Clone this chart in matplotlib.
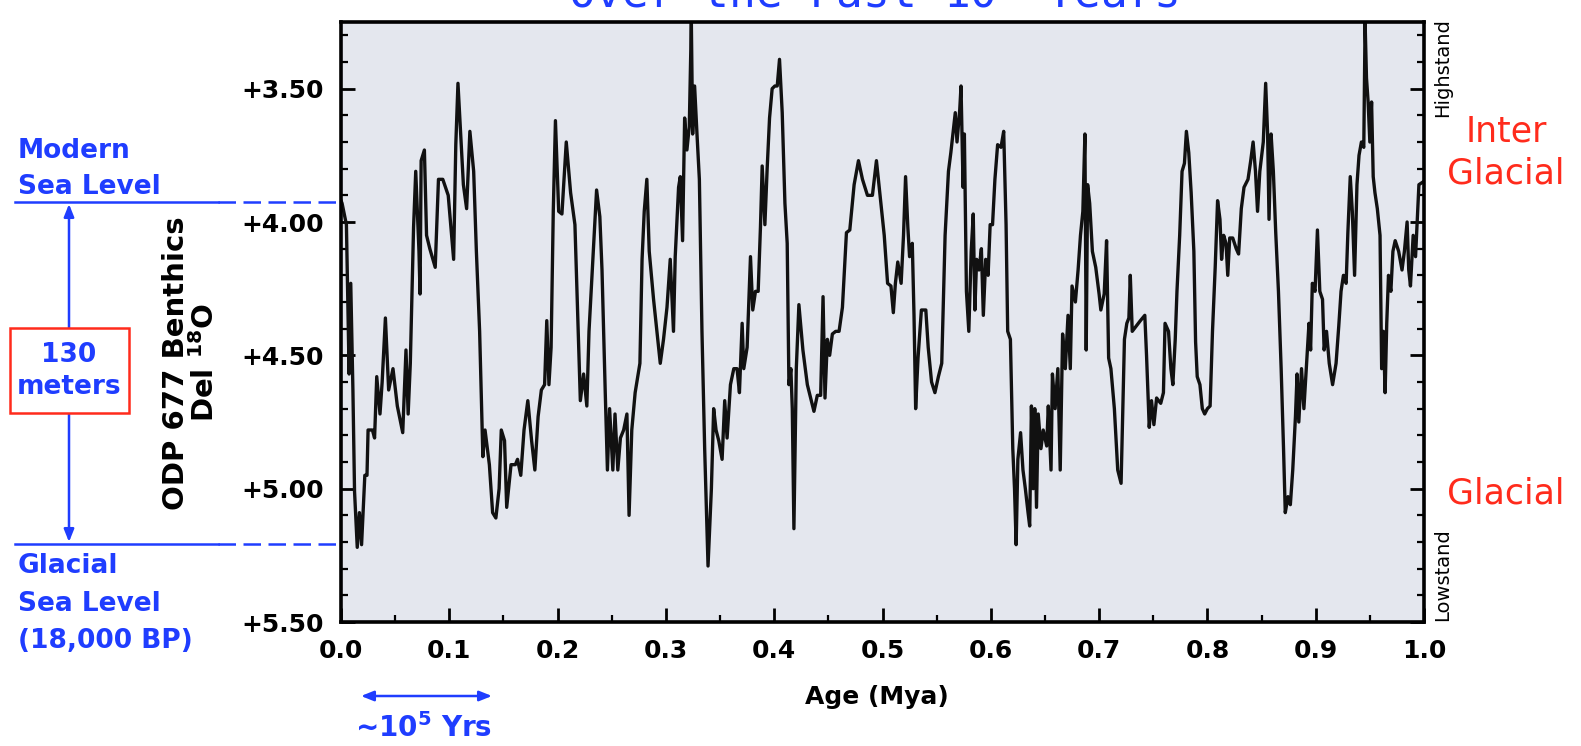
import numpy as np
import matplotlib
matplotlib.use("Agg")
import matplotlib.pyplot as plt
from matplotlib.lines import Line2D
from matplotlib.patches import FancyArrowPatch, Rectangle
from matplotlib.ticker import MultipleLocator, FuncFormatter

# ODP 677 benthic d18O (age in Mya, d18O in permil)
age_a = [0.0, 0.001, 0.005, 0.006, 0.0075, 0.009, 0.011, 0.0125, 0.015, 0.017, 0.019, 0.022, 0.024, 0.025,
         0.029, 0.031, 0.033, 0.036, 0.038, 0.041, 0.044, 0.048, 0.052, 0.057, 0.060, 0.062, 0.064,
         0.067, 0.069, 0.072, 0.073, 0.074, 0.077, 0.079, 0.082, 0.087, 0.090, 0.094, 0.099, 0.104,
         0.106, 0.108, 0.111, 0.113, 0.116, 0.119, 0.1225, 0.125, 0.128, 0.131, 0.133, 0.137, 0.140,
         0.143, 0.146, 0.148, 0.151, 0.153, 0.157, 0.161, 0.163, 0.166, 0.169, 0.1725, 0.176, 0.179,
         0.182, 0.185, 0.188, 0.190, 0.192, 0.194, 0.196, 0.198, 0.201, 0.204, 0.208, 0.212, 0.216,
         0.219, 0.221, 0.224, 0.227, 0.229, 0.233, 0.236, 0.239, 0.241]
d18o_a = [3.92, 3.93, 4.01, 4.23, 4.57, 4.23, 4.63, 5.01, 5.22, 5.09, 5.21, 4.95, 4.95, 4.78, 4.78, 4.81,
          4.58, 4.72, 4.60, 4.36, 4.63, 4.55, 4.69, 4.79, 4.48, 4.72, 4.53, 4.02, 3.81, 4.11, 4.27,
          3.77, 3.73, 4.05, 4.10, 4.17, 3.84, 3.84, 3.90, 4.14, 3.71, 3.48, 3.71, 3.86, 3.95, 3.66,
          3.81, 4.11, 4.41, 4.88, 4.78, 4.91, 5.09, 5.11, 5.00, 4.78, 4.82, 5.07, 4.91, 4.91, 4.89,
          4.95, 4.78, 4.67, 4.82, 4.93, 4.73, 4.63, 4.61, 4.37, 4.61, 4.47, 3.96, 3.62, 3.96, 3.97,
          3.70, 3.89, 4.01, 4.41, 4.67, 4.57, 4.69, 4.41, 4.11, 3.88, 3.98, 4.18]

age_b = [0.244, 0.246, 0.248, 0.251, 0.253, 0.2556, 0.258, 0.261, 0.264, 0.266, 0.2685, 0.2716, 0.276,
         0.278, 0.280, 0.2824, 0.2846, 0.2886, 0.2917, 0.2948, 0.2978, 0.301, 0.304, 0.307, 0.3086,
         0.3117, 0.3133, 0.3154, 0.3173, 0.3194, 0.3216, 0.3235, 0.3247, 0.3265, 0.3287, 0.3309,
         0.3333, 0.3358, 0.3373, 0.3389, 0.342, 0.3441, 0.3463, 0.3488, 0.3519, 0.3543, 0.3565,
         0.3596, 0.3627, 0.3657, 0.3679, 0.3704, 0.3719, 0.375, 0.3781, 0.3802, 0.3827, 0.3852,
         0.3873, 0.3889, 0.3914, 0.3935, 0.3957, 0.3981, 0.4006, 0.4028, 0.4049, 0.4074, 0.4099,
         0.412, 0.4136, 0.4154, 0.4167, 0.4182, 0.4204, 0.4228, 0.4265, 0.4306, 0.4336, 0.4367,
         0.4398, 0.4429, 0.4451, 0.4469, 0.4491, 0.4512, 0.4537, 0.4568, 0.4599, 0.463, 0.4667,
         0.4698, 0.4738, 0.4778, 0.4815, 0.4861, 0.4907, 0.4944]
d18o_b = [4.64, 4.93, 4.70, 4.93, 4.72, 4.93, 4.81, 4.78, 4.72, 5.10, 4.78, 4.64, 4.53, 4.14, 3.96, 3.84,
          4.11, 4.29, 4.41, 4.53, 4.44, 4.32, 4.14, 4.41, 4.13, 3.87, 3.83, 4.07, 3.61, 3.73, 3.64,
          3.25, 3.67, 3.49, 3.67, 3.84, 4.41, 4.85, 5.07, 5.29, 5.00, 4.70, 4.78, 4.82, 4.89, 4.67,
          4.81, 4.61, 4.55, 4.55, 4.64, 4.38, 4.55, 4.47, 4.13, 4.33, 4.26, 4.26, 4.02, 3.79, 4.01,
          3.80, 3.61, 3.50, 3.49, 3.49, 3.39, 3.59, 3.93, 4.08, 4.61, 4.55, 4.70, 5.15, 4.55, 4.31,
          4.48, 4.61, 4.66, 4.71, 4.65, 4.65, 4.28, 4.66, 4.44, 4.50, 4.42, 4.41, 4.41, 4.32, 4.04,
          4.03, 3.86, 3.77, 3.84, 3.90, 3.90, 3.77]

age_c = [0.5016, 0.5047, 0.5078, 0.510, 0.5119, 0.5141, 0.5172, 0.5194, 0.5213, 0.5234, 0.525, 0.5275,
         0.5291, 0.5306, 0.5328, 0.5359, 0.54, 0.5422, 0.5453, 0.5484, 0.5516, 0.5547, 0.5578,
         0.5609, 0.5631, 0.5672, 0.5688, 0.5713, 0.5725, 0.5744, 0.5756, 0.5775, 0.5797, 0.5819,
         0.5838, 0.5853, 0.5869, 0.5891, 0.5913, 0.5931, 0.5953, 0.5975, 0.5994, 0.6016, 0.6038,
         0.6063, 0.6094, 0.6119, 0.6141, 0.6156, 0.6181, 0.6203, 0.6219, 0.6234, 0.625, 0.6275,
         0.6297, 0.6319, 0.6344, 0.6359, 0.6375, 0.6391, 0.6406, 0.6422, 0.6438, 0.6463, 0.6484,
         0.6516, 0.6531, 0.6556, 0.6569, 0.6594, 0.6619, 0.6641, 0.6663, 0.6688, 0.6713, 0.6734,
         0.675, 0.6781, 0.6806, 0.6828, 0.685, 0.6869, 0.6881, 0.6894, 0.6913, 0.6938, 0.6969, 0.7,
         0.7016, 0.7047, 0.7069, 0.7088, 0.7109, 0.7141, 0.7172, 0.7203, 0.7219, 0.7234, 0.7256,
         0.7275, 0.7288, 0.7306, 0.7344, 0.7381, 0.7422, 0.7438, 0.7463, 0.7484]
d18o_c = [4.05, 4.23, 4.24, 4.34, 4.23, 4.15, 4.23, 4.05, 3.83, 4.02, 4.13, 4.08, 4.35, 4.70, 4.51, 4.33,
          4.33, 4.47, 4.60, 4.64, 4.58, 4.53, 4.05, 3.81, 3.74, 3.59, 3.70, 3.58, 3.49, 3.87, 3.67,
          4.26, 4.41, 4.11, 3.97, 4.33, 4.14, 4.18, 4.10, 4.35, 4.14, 4.20, 4.01, 4.01, 3.84, 3.71,
          3.72, 3.66, 4.01, 4.41, 4.44, 4.85, 5.00, 5.21, 4.89, 4.79, 4.93, 5.00, 5.09, 5.14, 4.69,
          5.00, 4.70, 5.07, 4.72, 4.85, 4.78, 4.84, 4.69, 4.93, 4.57, 4.70, 4.55, 4.93, 4.42, 4.55,
          4.35, 4.55, 4.24, 4.30, 4.18, 4.05, 3.96, 3.67, 4.48, 3.86, 3.93, 4.11, 4.17, 4.27, 4.33,
          4.27, 4.07, 4.51, 4.55, 4.70, 4.93, 4.98, 4.70, 4.44, 4.38, 4.36, 4.20, 4.41, 4.39, 4.37,
          4.35, 4.50, 4.77, 4.67]

age_d = [0.7506, 0.7531, 0.7569, 0.7594, 0.7609, 0.7641, 0.7663, 0.7681, 0.7703, 0.7719, 0.7744, 0.7766,
         0.7788, 0.7806, 0.7828, 0.785, 0.7875, 0.7891, 0.7906, 0.7931, 0.7953, 0.7975, 0.8, 0.8025,
         0.8047, 0.8072, 0.8094, 0.8116, 0.8131, 0.815, 0.8172, 0.8188, 0.8206, 0.8234, 0.8266,
         0.8288, 0.8313, 0.8338, 0.8375, 0.84, 0.8422, 0.8444, 0.8463, 0.8484, 0.8516, 0.8538,
         0.8556, 0.8569, 0.8588, 0.8609, 0.8631, 0.8656, 0.8681, 0.8703, 0.8719, 0.8744, 0.8766,
         0.8788, 0.8813, 0.8828, 0.8844, 0.8869, 0.8891, 0.8913, 0.8938, 0.8953, 0.8969, 0.8994,
         0.9016, 0.9038, 0.9063, 0.9078, 0.91, 0.9125, 0.9156, 0.9188, 0.9213, 0.9234, 0.9256,
         0.9281, 0.9297, 0.9319, 0.9338, 0.9359, 0.9381, 0.94, 0.9422, 0.9444, 0.9456, 0.9469,
         0.9484, 0.95, 0.9516, 0.9531, 0.9547, 0.9569, 0.9594, 0.9609, 0.9625, 0.9641, 0.9656,
         0.9672, 0.9694, 0.9713, 0.9734, 0.9766, 0.9797, 0.9819, 0.9844, 0.9859, 0.9875, 0.99,
         0.9922, 0.9938, 0.9953, 0.999]
d18o_d = [4.76, 4.66, 4.68, 4.64, 4.38, 4.41, 4.55, 4.61, 4.44, 4.26, 4.05, 3.81, 3.78, 3.66, 3.74, 3.89,
          4.11, 4.45, 4.58, 4.61, 4.70, 4.72, 4.70, 4.69, 4.41, 4.17, 3.92, 3.99, 4.14, 4.05, 4.08,
          4.20, 4.06, 4.06, 4.10, 4.12, 3.95, 3.87, 3.84, 3.77, 3.70, 3.81, 3.96, 3.81, 3.70, 3.48,
          3.67, 3.99, 3.67, 3.81, 4.04, 4.26, 4.55, 4.85, 5.09, 5.03, 5.06, 4.93, 4.73, 4.57, 4.75,
          4.55, 4.70, 4.55, 4.38, 4.48, 4.23, 4.26, 4.03, 4.26, 4.29, 4.48, 4.41, 4.53, 4.61, 4.53,
          4.39, 4.26, 4.20, 4.23, 4.04, 3.83, 3.96, 4.20, 3.86, 3.75, 3.70, 3.72, 3.25, 3.46, 3.55,
          3.70, 3.55, 3.83, 3.89, 3.95, 4.05, 4.55, 4.41, 4.64, 4.38, 4.20, 4.26, 4.11, 4.07, 4.11,
          4.18, 4.11, 4.00, 4.18, 4.24, 4.05, 4.13, 3.99, 3.86, 3.85]

age = np.array(age_a + age_b + age_c + age_d)
d18o = np.array(d18o_a + d18o_b + d18o_c + d18o_d)

y_ticks = [3.5, 4.0, 4.5, 5.0, 5.5]
x_ticks = [0.0, 0.1, 0.2, 0.3, 0.4, 0.5, 0.6, 0.7, 0.8, 0.9, 1.0]

BLUE = "#1f3dff"
RED = "#ff2b1c"
W, H = 1581, 746

plt.rcParams["mathtext.default"] = "bf"


def fp(x, y):
    # pixel position (from top-left) -> figure fraction
    return x / W, 1 - y / H


fig = plt.figure(figsize=(W / 100, H / 100), dpi=100)
l, b = fp(341, 622)
ax = fig.add_axes([l, b, (1424 - 341) / W, 600 / H])
ax.set_facecolor("#e4e7ee")

ax.plot(age, d18o, color="#111111", lw=2.4)

ax.set_xlim(0, 1)
ax.set_ylim(5.5, 3.25)
ax.set_xticks(x_ticks)
ax.set_yticks(y_ticks)
ax.xaxis.set_minor_locator(MultipleLocator(0.05))
ax.yaxis.set_minor_locator(MultipleLocator(0.1))
ax.xaxis.set_major_formatter(FuncFormatter(lambda v, p: f"{v:.1f}"))
ax.yaxis.set_major_formatter(FuncFormatter(lambda v, p: f"+{v:.2f}"))
ax.tick_params(which="both", direction="in", top=False, right=True, labelright=False,
               labelsize=18)
ax.tick_params(axis="y", pad=12)
ax.tick_params(axis="x", pad=12)
ax.tick_params(which="major", length=10, width=2)
ax.tick_params(which="minor", length=5, width=1.6)
for t in ax.get_xticklabels() + ax.get_yticklabels():
    t.set_fontweight("bold")
for s in ax.spines.values():
    s.set_linewidth(2.6)

# title, cut off at the top edge as in the scan
fig.text(*fp(873, 7), "Over the Past 10$^{6}$ Years", color=BLUE, fontsize=32,
         family="DejaVu Sans Mono", ha="center", va="baseline")

fig.text(*fp(877, 697), "Age (Mya)", fontsize=18, fontweight="bold", ha="center", va="center")
fig.text(*fp(191, 363), "ODP 677 Benthics\nDel $^{18}$O", fontsize=21, fontweight="bold",
         rotation=90, ha="center", va="center", multialignment="center", linespacing=1.0)

# right side labels
fig.text(*fp(1443, 68), "Highstand", fontsize=14, rotation=90, ha="center", va="center")
fig.text(*fp(1443, 575), "Lowstand", fontsize=14, rotation=90, ha="center", va="center")
fig.text(*fp(1506, 141), "Inter", color=RED, fontsize=25, ha="center", va="baseline")
fig.text(*fp(1506, 183), "Glacial", color=RED, fontsize=25, ha="center", va="baseline")
fig.text(*fp(1506, 504), "Glacial", color=RED, fontsize=25, ha="center", va="baseline")

# sea level guides on the left
for yy in (202, 544):
    fig.add_artist(Line2D([15 / W, 218 / W], [1 - yy / H] * 2, color=BLUE, lw=1.8))
    fig.add_artist(Line2D([218 / W, 341 / W], [1 - yy / H] * 2, color=BLUE, lw=1.8,
                          ls=(0, (7, 3))))

lbl = dict(color=BLUE, fontsize=19, fontweight="bold", va="baseline")
fig.text(*fp(18, 158), "Modern", **lbl)
fig.text(*fp(18, 194), "Sea Level", **lbl)
fig.text(*fp(18, 573), "Glacial", **lbl)
fig.text(*fp(18, 611), "Sea Level", **lbl)
fig.text(*fp(18, 648), "(18,000 BP)", **lbl)

arrow_kw = dict(transform=fig.transFigure, color=BLUE, lw=1.8, shrinkA=0, shrinkB=0,
                arrowstyle="-|>,head_length=0.5,head_width=0.2", mutation_scale=15)
fig.add_artist(FancyArrowPatch(fp(69, 328), fp(69, 204), **arrow_kw))
fig.add_artist(FancyArrowPatch(fp(69, 413), fp(69, 542), **arrow_kw))

bx, by = fp(10, 413)
fig.add_artist(Rectangle((bx, by), 119 / W, 85 / H, transform=fig.transFigure,
                         facecolor="white", edgecolor=RED, lw=1.8))
fig.text(*fp(69, 371), "130\nmeters", color=BLUE, fontsize=19, fontweight="bold",
         ha="center", va="center", linespacing=1.3)

# ~10^5 year bar
fig.add_artist(FancyArrowPatch(fp(361, 696), fp(492, 696), transform=fig.transFigure,
                               color=BLUE, lw=1.8, shrinkA=0, shrinkB=0,
                               arrowstyle="<|-|>,head_length=0.5,head_width=0.2",
                               mutation_scale=15))
fig.text(*fp(424, 737), "~10$^{5}$ Yrs", color=BLUE, fontsize=20, fontweight="bold",
         ha="center", va="baseline")

fig.savefig("out.png", dpi=100)
